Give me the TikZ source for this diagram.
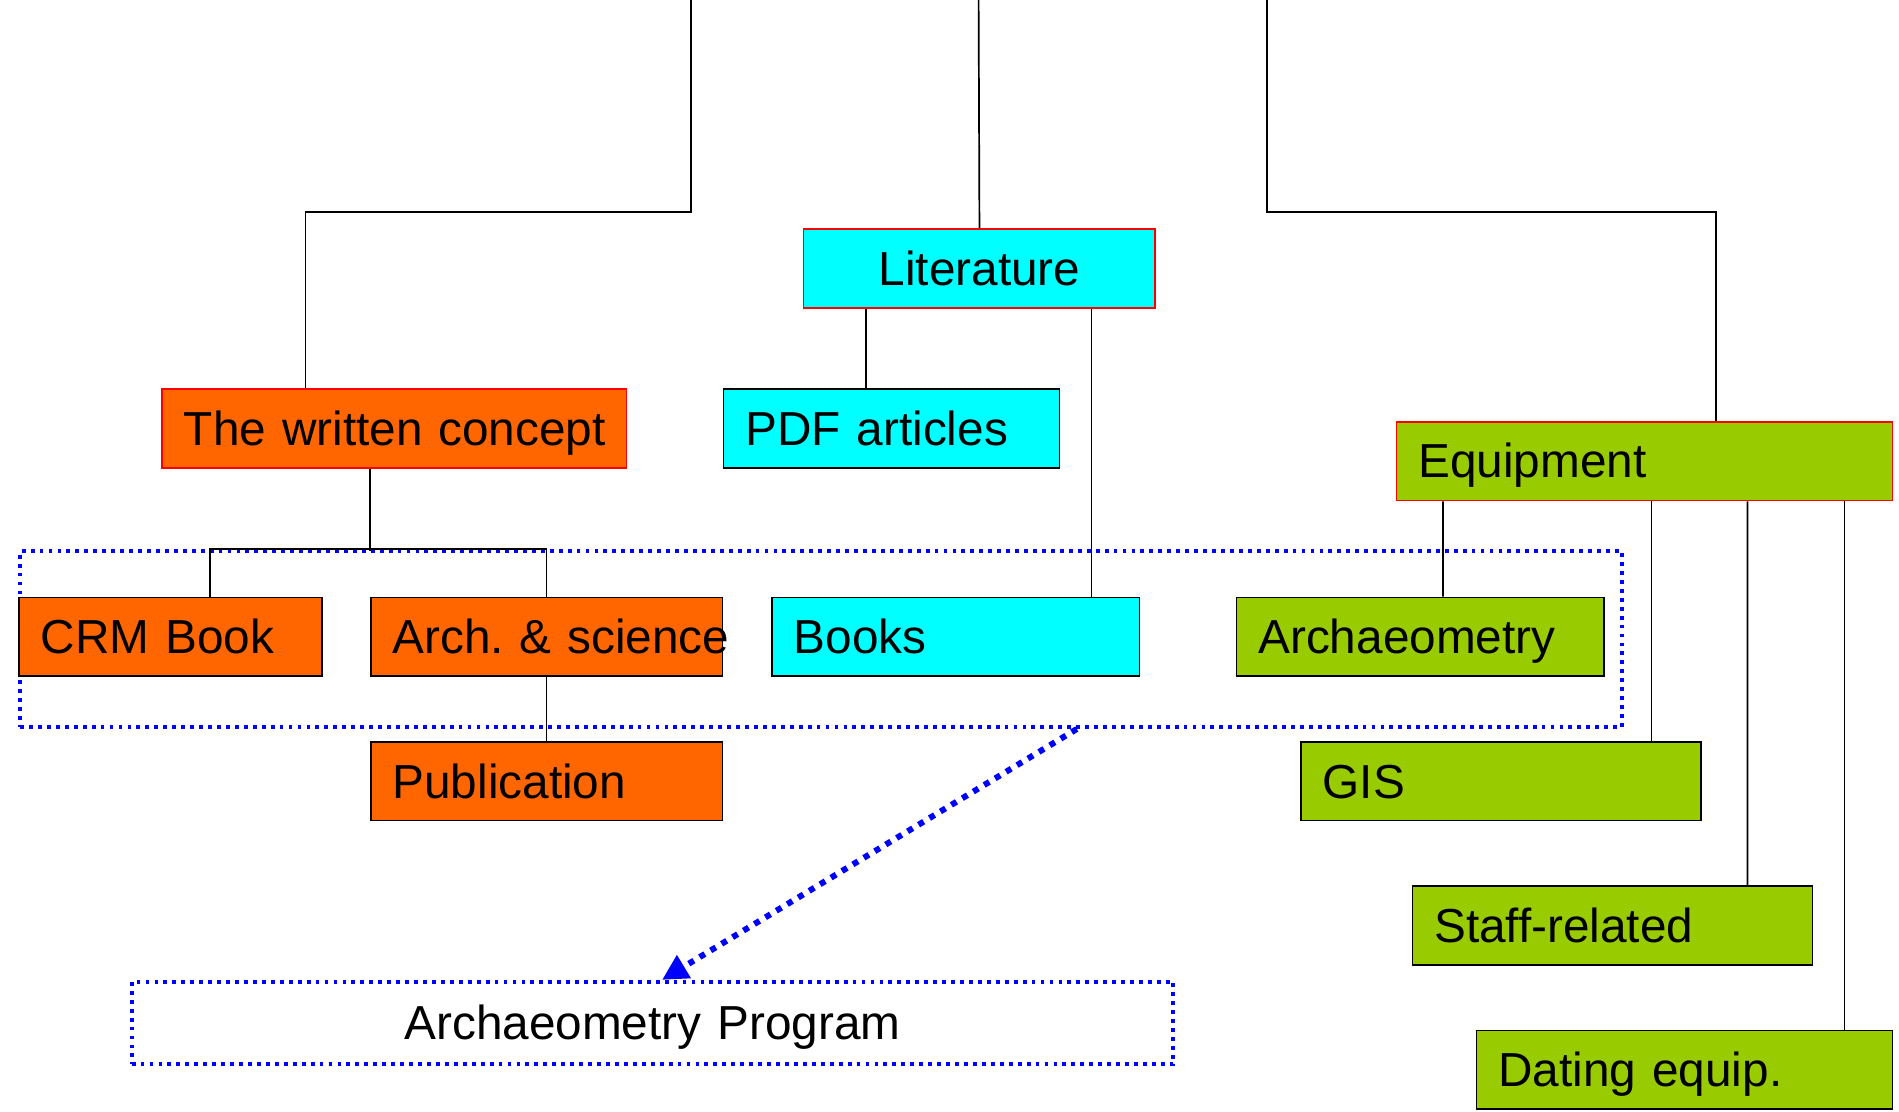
\documentclass[tikz,border=0pt]{standalone}
\usepackage{fontspec}
\setmainfont{Liberation Sans}
\usetikzlibrary{calc,arrows.meta}
\definecolor{orangebox}{HTML}{FF6600}
\definecolor{cyanbox}{HTML}{00FFFF}
\definecolor{greenbox}{HTML}{99CC00}
\frenchspacing
\tikzset{
  box/.style={draw, anchor=north west, minimum height=0.65cm, inner xsep=0.18cm, inner ysep=0pt, text height=1.04em, text depth=0.25em, align=left, font=\fontsize{11.2}{13}\selectfont},
  topbox/.style={box, draw=red},
  groupline/.style={blue, line width=0.9pt, dash pattern=on 0.9pt off 1.2pt},
}
\begin{document}
\begin{tikzpicture}
\useasboundingbox (0,0) rectangle (15.66,-9.17);

% Dotted group round the second row
\node[groupline, draw, anchor=north west, minimum width=13.21cm, minimum height=1.45cm, inner sep=0pt] (grp) at (0.15,-4.53) {};

% Top-level boxes
\node[topbox, fill=cyanbox, text width=2.54cm, align=center] (lit) at (6.62,-1.88) {Literature};
\node[topbox, fill=orangebox, text width=3.47cm] (written) at (1.33,-3.20) {\mbox{The written concept}};
\node[topbox, fill=greenbox, text width=3.73cm] (equip) at (11.51,-3.47) {Equipment};

% Literature
\node[box, fill=cyanbox, text width=2.41cm] (pdf) at (5.96,-3.20) {\mbox{PDF articles}};
\node[box, fill=cyanbox, text width=2.67cm] (books) at (6.36,-4.92) {Books};

% The written concept
\node[box, fill=orangebox, text width=2.14cm] (crm) at (0.15,-4.92) {\mbox{CRM Book}};
\node[box, fill=orangebox, text width=2.54cm] (archsci) at (3.05,-4.92) {\mbox{Arch. \& science}};
\node[box, fill=orangebox, text width=2.54cm] (pub) at (3.05,-6.11) {Publication};

% Equipment
\node[box, fill=greenbox, text width=2.67cm] (archaeo) at (10.19,-4.92) {Archaeometry};
\node[box, fill=greenbox, text width=2.94cm] (gis) at (10.72,-6.11) {GIS};
\node[box, fill=greenbox, text width=2.94cm] (staff) at (11.64,-7.30) {Staff-related};
\node[box, fill=greenbox, text width=3.07cm] (dating) at (12.17,-8.49) {\mbox{Dating equip.}};

% Program
\node[box, groupline, draw, fill=white, text=black, text width=8.23cm, align=center, minimum height=0.68cm] (prog) at (1.07,-8.08) {Archaeometry Program};

% Lines from above
\coordinate (top1) at (5.70,0);
\coordinate (top2) at (8.07,0);
\coordinate (top3) at (10.45,0);
\draw (top1) -- ++(0,-1.75) -| ($(written.north west)+(1.19,0)$);
\draw (top2) -- (lit.north);
\draw (top3) -- ++(0,-1.75) -| ($(equip.north west)+(2.64,0)$);

% Literature links
\draw ($(lit.south west)+(0.52,0)$) -- ($(pdf.north west)+(1.18,0)$);
\draw ($(lit.south west)+(2.38,0)$) -- ($(books.north west)+(2.64,0)$);

% Written concept links
\draw ($(written.south west)+(1.72,0)$) -- ++(0,-0.68);
\draw ($(crm.north west)+(1.58,0)$) -- ++(0,0.39) -| (archsci.north);
\draw (archsci.south) -- (pub.north);

% Equipment links
\draw ($(equip.south west)+(0.39,0)$) -- ($(archaeo.north west)+(1.71,0)$);
\draw ($(equip.south west)+(2.11,0)$) -- ($(gis.north west)+(2.90,0)$);
\draw ($(equip.south west)+(2.90,0)$) -- ($(staff.north west)+(2.77,0)$);
\draw ($(equip.south west)+(3.70,0)$) -- ($(dating.north west)+(3.04,0)$);

% Arrow to the program
\coordinate (grpout) at ($(grp.south west)+(8.73,0)$);
\draw[blue, line width=1.4pt, dash pattern=on 1.4pt off 1.6pt, -{Triangle[length=6pt,width=6pt]}] (grpout) -- ($(prog.north west)+(4.39,0)$);

\end{tikzpicture}
\end{document}
